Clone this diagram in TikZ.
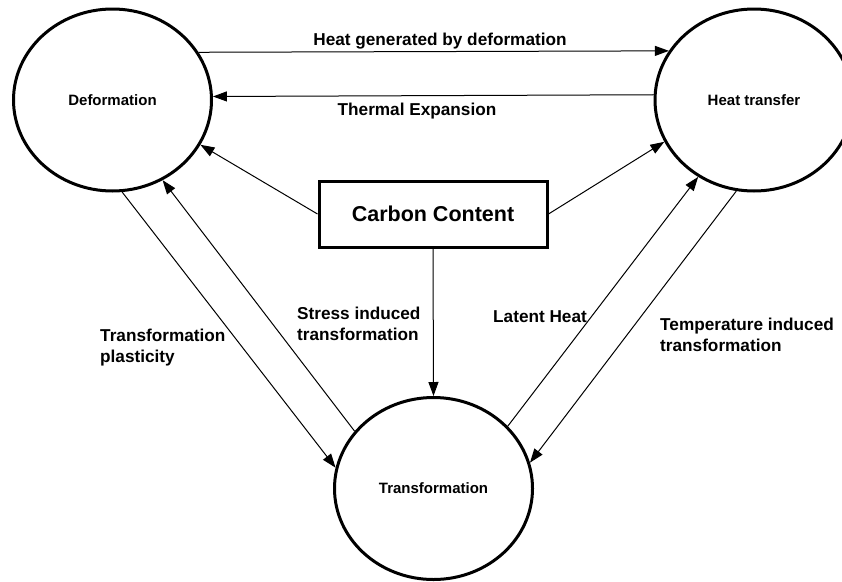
\documentclass[tikz,border=0pt]{standalone}
\usepackage{fontspec}
\setmainfont{Liberation Sans}
\usetikzlibrary{arrows.meta,shapes.geometric}
\begin{document}
\begin{tikzpicture}[x=1pt,y=-1pt,
  proc/.style={ellipse,draw,line width=3pt,minimum width=198pt,minimum height=182pt,inner sep=0pt,font=\fontsize{15}{18}\selectfont\bfseries},
  factor/.style={rectangle,draw,line width=3pt,minimum width=228pt,minimum height=66pt,inner sep=0pt,font=\fontsize{21.5}{26}\selectfont\bfseries},
  link/.style={line width=1pt,-{Triangle[length=14pt,width=10pt]}},
  lbl/.style={inner sep=0pt,font=\fontsize{17.2}{21}\selectfont\bfseries,align=left},
]
\useasboundingbox (0,0) rectangle (842,581);
\node[proc] (def) at (112.5,100) {Deformation};
\node[proc] (ht) at (754,100) {Heat transfer};
\node[proc] (tr) at (433.5,488.5) {Transformation};
\node[factor] (cc) at (433,214) {Carbon Content};

\draw[link] (def.29.4) -- (ht.150.6);
\draw[link] (ht.177.7) -- (def.2.3);
\draw[link] (cc.west) -- (def.-27.9);
\draw[link] (cc.east) -- (ht.205.6);
\draw[link] (cc.south) -- (tr.north);
\draw[link] (def.-84.2) -- (tr.168.2);
\draw[link] (tr.144.5) -- (def.-58.9);
\draw[link] (tr.40.5) -- (ht.234.2);
\draw[link] (ht.259.6) -- (tr.15.4);

\node[lbl,anchor=base] (l1) at (440,45) {Heat generated by deformation};
\node[lbl,anchor=base] (l2) at (417,115) {Thermal Expansion};
\node[lbl,anchor=base west] (l3) at (100,362) {Transformation\\plasticity};
\node[lbl,anchor=base west] (l4) at (297,340) {Stress induced\\transformation};
\node[lbl,anchor=base west] (l5) at (493,322) {Latent Heat};
\node[lbl,anchor=base west] (l6) at (660,351) {Temperature induced\\transformation};
\end{tikzpicture}
\end{document}
